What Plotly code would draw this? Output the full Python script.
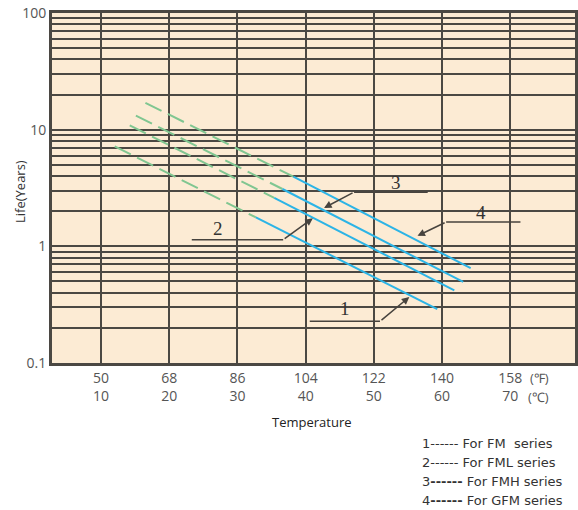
import math
import plotly.graph_objects as go

# ---------------- data ----------------
# temperature axis (degC values with matching degF labels)
temp_c_ticks = [10, 20, 30, 40, 50, 60, 70]
temp_f_labels = ["50", "68", "86", "104", "122", "140", "158"]

# life axis: decade labels, gridlines at every 1..9 step of each decade
life_major = [0.1, 1, 10, 100]
life_major_labels = ["0.1", "1", "10", "100"]

# each series: start of curve, change from dashed (extrapolated) to solid, end
series_names = ["FM", "FML", "FMH", "GFM"]
fm_temp = [12.0, 32.7, 59.3]
fm_life = [7.2, 1.77, 0.29]
fml_temp = [14.2, 35.4, 61.8]
fml_life = [10.9, 2.6, 0.42]
fmh_temp = [15.1, 36.6, 63.1]
fmh_life = [13.2, 3.1, 0.495]
gfm_temp = [16.5, 38.2, 64.2]
gfm_life = [17.0, 3.95, 0.65]

# callout labels: number position, leader underline (x0, x1, y), arrow tip
callout_ids = ["1", "2", "3", "4"]
callout_text_x = [45.7, 27.2, 53.2, 65.7]
callout_text_y = [0.296, 1.43, 3.54, 1.94]
leader_x0 = [40.6, 23.3, 57.9, 71.5]
leader_x1 = [50.9, 36.7, 47.1, 60.6]
leader_y = [0.2275, 1.139, 2.914, 1.617]
tip_x = [55.2, 41.05, 42.7, 56.4]
tip_y = [0.368, 1.738, 2.135, 1.231]

legend_lines = [
    "1------ For FM&nbsp;&nbsp;series",
    "2------ For FML series",
    "3<b>------</b> For FMH series",
    "4<b>------</b> For GFM series",
]

# ---------------- style ----------------
BG = "#fcebd4"
GRID = "#4b4843"
GREEN = "#80c691"
BLUE = "#2cb4e6"
INK = "#47433e"
TXT = "#555555"
FONT = "Open Sans"

fig = go.Figure()

all_temp = [fm_temp, fml_temp, fmh_temp, gfm_temp]
all_life = [fm_life, fml_life, fmh_life, gfm_life]
for name, t, v in zip(series_names, all_temp, all_life):
    fig.add_trace(go.Scatter(x=t[:2], y=v[:2], mode="lines", name=name + " (extrapolated)",
                             line=dict(color=GREEN, width=2, dash="18px,7px"),
                             showlegend=False, hoverinfo="skip"))
    fig.add_trace(go.Scatter(x=t[1:], y=v[1:], mode="lines", name=name,
                             line=dict(color=BLUE, width=2),
                             showlegend=False))

# leader underlines
for x0, x1, y in zip(leader_x0, leader_x1, leader_y):
    fig.add_trace(go.Scatter(x=[x0, x1], y=[y, y], mode="lines",
                             line=dict(color=INK, width=1.5),
                             showlegend=False, hoverinfo="skip"))

annotations = []
for cid, tx, ty, x1, y, px, py in zip(callout_ids, callout_text_x, callout_text_y,
                                      leader_x1, leader_y, tip_x, tip_y):
    annotations.append(dict(x=tx, y=math.log10(ty), xref="x", yref="y", text=cid,
                            showarrow=False, yanchor="middle",
                            font=dict(family="Liberation Serif", size=19, color="#333333")))
    annotations.append(dict(x=px, y=math.log10(py), xref="x", yref="y",
                            ax=x1, ay=math.log10(y), axref="x", ayref="y",
                            text="", showarrow=True, arrowhead=2, arrowsize=1,
                            arrowwidth=1.5, arrowcolor=INK, standoff=0, startstandoff=0))

# unit labels at the right end of tick rows
annotations.append(dict(x=(551 - 52) / 523, y=0, xref="paper", yref="paper", yshift=-15,
                        yanchor="middle", text="(℉)", showarrow=False,
                        font=dict(family=FONT, size=13, color=TXT)))
annotations.append(dict(x=(551 - 52) / 523, y=0, xref="paper", yref="paper", yshift=-34,
                        yanchor="middle", text="(℃)", showarrow=False,
                        font=dict(family=FONT, size=13, color=TXT)))
annotations.append(dict(x=(312 - 52) / 523, y=0, xref="paper", yref="paper", yshift=-59,
                        yanchor="middle", text="Temperature", showarrow=False,
                        font=dict(family=FONT, size=13, color="#222222")))
annotations.append(dict(x=0, y=(363 - 192) / 350, xref="paper", yref="paper", xshift=-32,
                        xanchor="center", yanchor="middle",
                        text="Life(Years)", textangle=-90, showarrow=False,
                        font=dict(family=FONT, size=13, color="#333333")))
for i, txt in enumerate(legend_lines):
    annotations.append(dict(x=(420 - 52) / 523, y=0, xref="paper", yref="paper",
                            yshift=-(80 + 19 * i), xanchor="left", yanchor="middle",
                            text=txt, showarrow=False,
                            font=dict(family="DejaVu Sans", size=13, color="#333333")))

y_tickvals = []
y_ticktext = []
for d, lab in zip(life_major[:-1], life_major_labels[:-1]):
    for k in range(1, 10):
        y_tickvals.append(d * k)
        y_ticktext.append(lab if k == 1 else "")
y_tickvals.append(life_major[-1])
y_ticktext.append(life_major_labels[-1])

fig.update_layout(
    width=578, height=510,
    margin=dict(l=52, r=3, t=13, b=147),
    paper_bgcolor="white", plot_bgcolor=BG,
    annotations=annotations,
    showlegend=False,
    xaxis=dict(range=[2.8, 79.5], tickvals=temp_c_ticks,
               ticktext=[f + "<br>" + str(c) for f, c in zip(temp_f_labels, temp_c_ticks)],
               showgrid=True, gridcolor=GRID, gridwidth=2, zeroline=False,
               showline=True, mirror=True, linecolor=GRID, linewidth=3,
               ticks="", automargin=False,
               tickfont=dict(family=FONT, size=14, color=TXT)),
    yaxis=dict(type="log", range=[-1, 2], tickvals=y_tickvals, ticktext=y_ticktext,
               showgrid=True, gridcolor=GRID, gridwidth=2, zeroline=False,
               showline=True, mirror=True, linecolor=GRID, linewidth=3,
               ticks="", automargin=False,
               tickfont=dict(family=FONT, size=14, color=TXT)),
)

fig.write_html("out.html", config={"displayModeBar": False},
               post_script="document.body.style.margin='0';")
